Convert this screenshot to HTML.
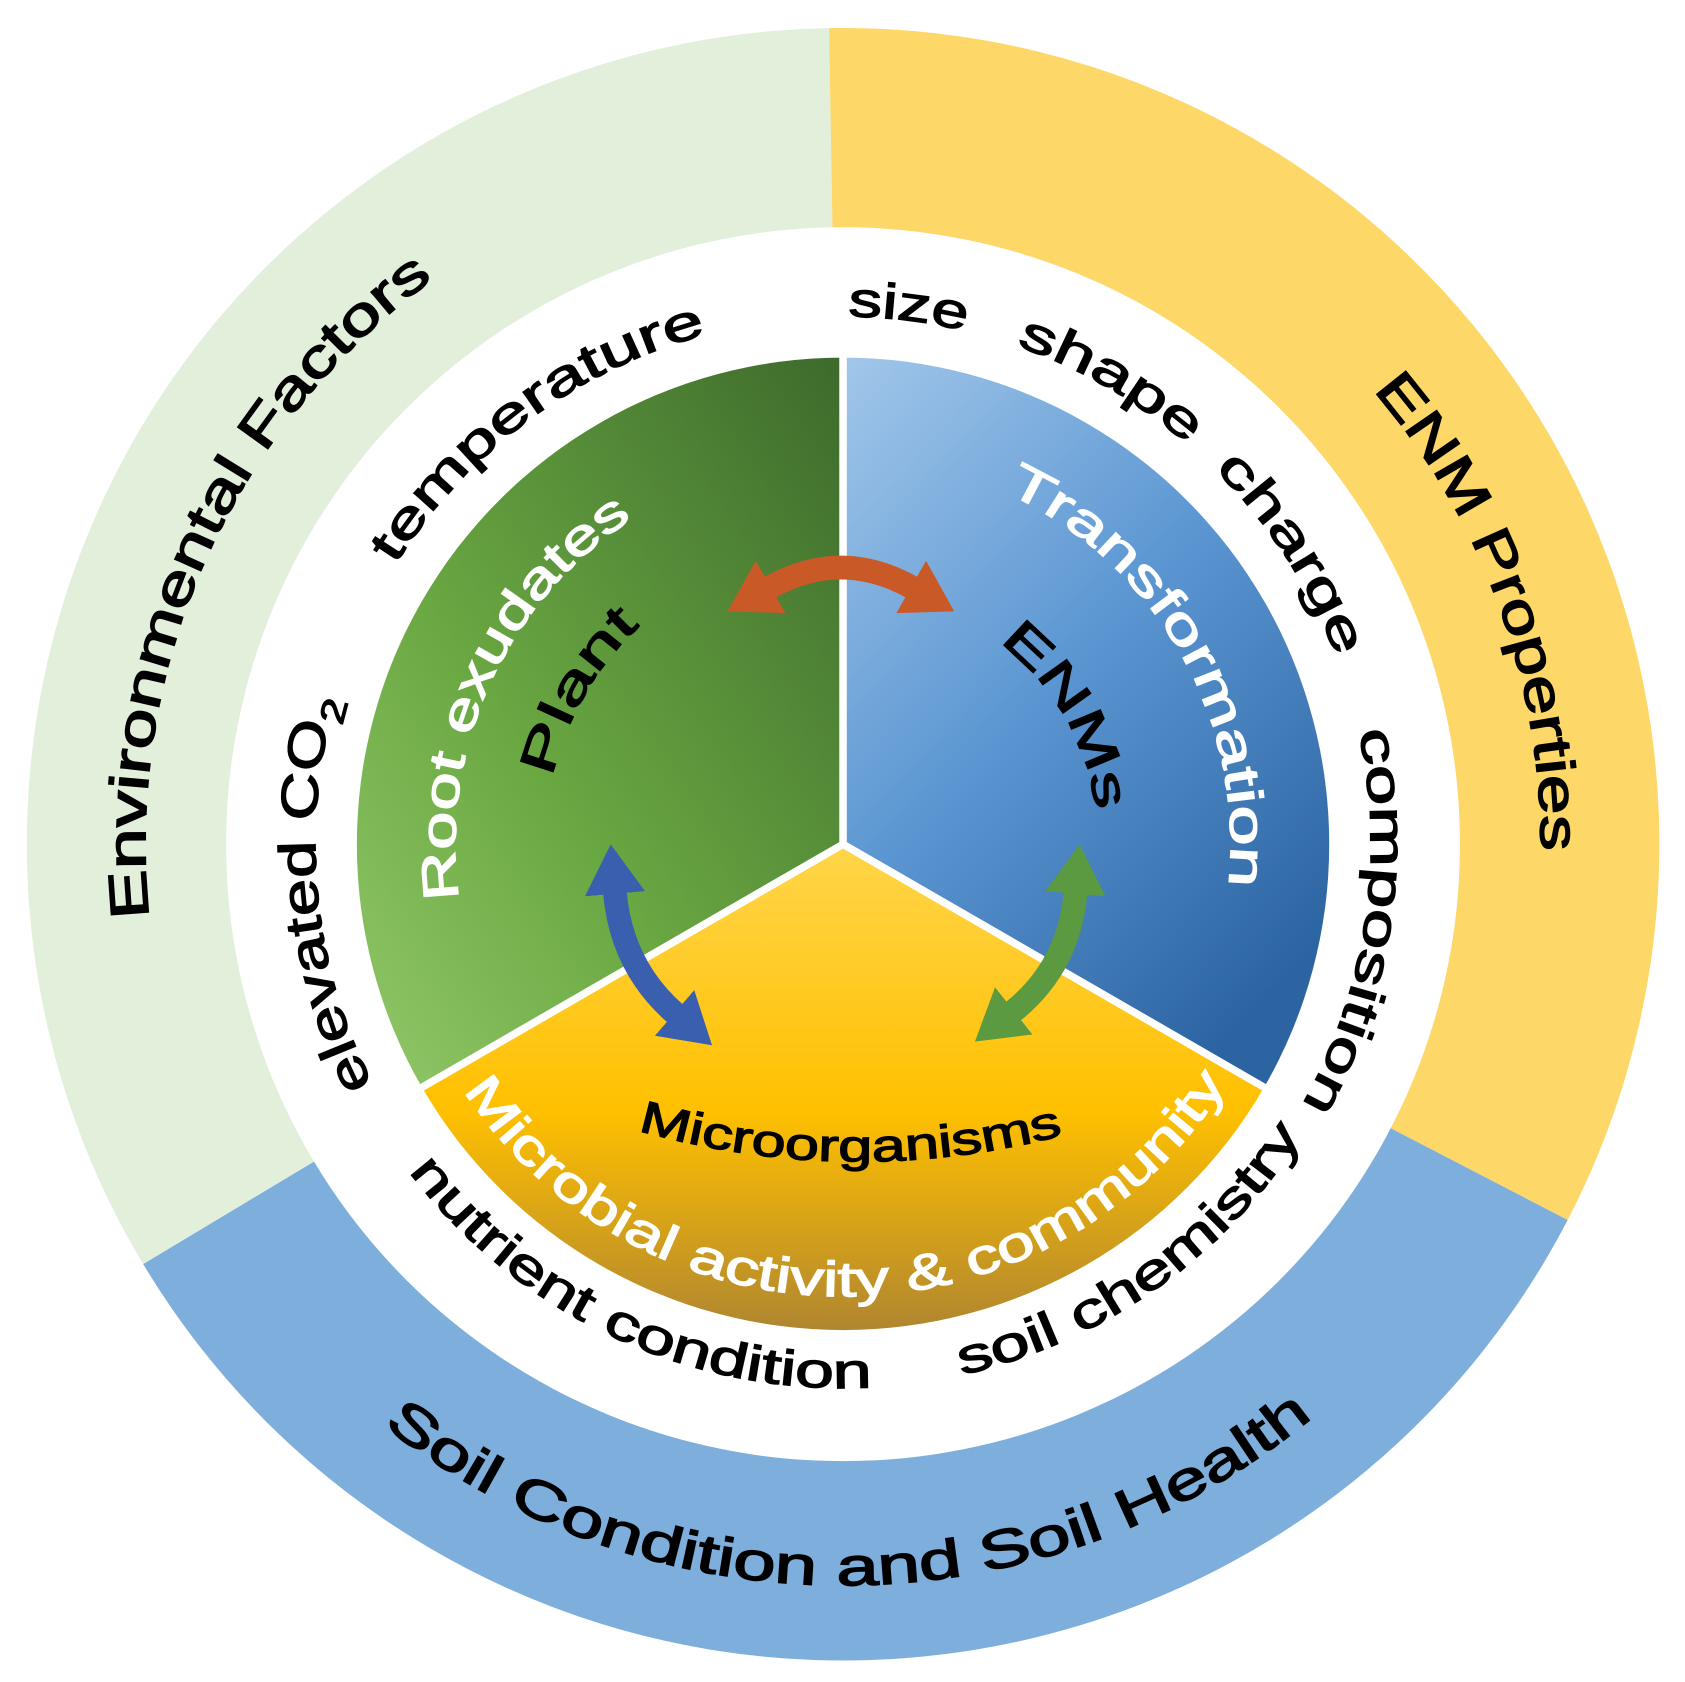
<!DOCTYPE html>
<html><head><meta charset="utf-8"><style>
html,body{margin:0;padding:0;background:#fff}
svg{display:block}
text{font-family:"Liberation Sans",sans-serif;}
</style></head><body>
<svg width="1685" height="1682" viewBox="0 0 1565 1562" xmlns="http://www.w3.org/2000/svg">
<defs>
<linearGradient id="gG" x1="1" y1="0" x2="0" y2="1">
<stop offset="0" stop-color="#3d6a2c"/><stop offset="0.6" stop-color="#6aa842"/><stop offset="1" stop-color="#92c86a"/></linearGradient>
<linearGradient id="gB" x1="0" y1="0" x2="0.7" y2="1">
<stop offset="0" stop-color="#a2c7ea"/><stop offset="0.5" stop-color="#5b96d2"/><stop offset="1" stop-color="#2c64a2"/></linearGradient>
<linearGradient id="gY" x1="0" y1="0" x2="0" y2="1">
<stop offset="0" stop-color="#ffd54a"/><stop offset="0.55" stop-color="#ffc000"/><stop offset="1" stop-color="#b08630"/></linearGradient>
<marker id="mO" markerUnits="userSpaceOnUse" markerWidth="50" markerHeight="56" refX="2" refY="28" orient="auto-start-reverse"><path d="M0 0 L46 28 L0 56 Z" fill="#c95a27"/></marker>
<marker id="mBl" markerUnits="userSpaceOnUse" markerWidth="50" markerHeight="56" refX="2" refY="28" orient="auto-start-reverse"><path d="M0 0 L46 28 L0 56 Z" fill="#3a5fae"/></marker>
<marker id="mGr" markerUnits="userSpaceOnUse" markerWidth="50" markerHeight="56" refX="2" refY="28" orient="auto-start-reverse"><path d="M0 0 L46 28 L0 56 Z" fill="#5b9a40"/></marker>
<path id="cw648" d="M1431 784 A648 648 0 1 1 135 784 A648 648 0 1 1 1431 784"/>
<path id="ccw688" d="M1471 784 A688 688 0 1 0 95 784 A688 688 0 1 0 1471 784"/>
<path id="cw360" d="M1143 784 A360 360 0 1 1 423 784 A360 360 0 1 1 1143 784"/>
<path id="cw360b" d="M423 784 A360 360 0 1 1 1143 784 A360 360 0 1 1 423 784"/>
<path id="cw277" d="M1060 784 A277 277 0 1 1 506 784 A277 277 0 1 1 1060 784"/>
<path id="cw237" d="M1020 784 A237 237 0 1 1 546 784 A237 237 0 1 1 1020 784"/>
<path id="micro" d="M560 1040 Q790 1115 1020 1045"/>
<path id="ccw420" d="M1203 784 A420 420 0 1 0 363 784 A420 420 0 1 0 1203 784"/>
<path id="cw490" d="M1273 784 A490 490 0 1 1 293 784 A490 490 0 1 1 1273 784"/>
<path id="cw490b" d="M293 784 A490 490 0 1 1 1273 784 A490 490 0 1 1 293 784"/>
<path id="ccw505" d="M1288 784 A505 505 0 1 0 278 784 A505 505 0 1 0 1288 784"/>
</defs>
<path d="M783 784 L133 1174 A758 758 0 0 1 770 26 Z" fill="#e2efda"/>
<path d="M783 784 L770 26 A758 758 0 0 1 1456 1133 Z" fill="#fdd768"/>
<path d="M783 784 L1456 1133 A758 758 0 0 1 133 1174 Z" fill="#7eaedc"/>
<circle cx="783" cy="784" r="573" fill="#fff"/>
<path d="M783 784 L392 1010 A452 452 0 0 1 783 332 Z" fill="url(#gG)"/>
<path d="M783 784 L783 332 A452 452 0 0 1 1174 1010 Z" fill="url(#gB)"/>
<path d="M783 784 L1174 1010 A452 452 0 0 1 392 1010 Z" fill="url(#gY)"/>
<g stroke="#fff" stroke-width="7"><line x1="783" y1="784" x2="783" y2="328"/><line x1="783" y1="784" x2="388" y2="1012"/><line x1="783" y1="784" x2="1178" y2="1012"/></g>
<path d="M714 546 Q781 508 848 546" fill="none" stroke="#c95a27" stroke-width="22" marker-start="url(#mO)" marker-end="url(#mO)"/>
<path d="M571 828 Q577 898 628 942" fill="none" stroke="#3a5fae" stroke-width="22" marker-start="url(#mBl)" marker-end="url(#mBl)"/>
<path d="M999 828 Q993 898 940 940" fill="none" stroke="#5b9a40" stroke-width="22" marker-start="url(#mGr)" marker-end="url(#mGr)"/>
<g fill="#000" stroke="#000" stroke-width="1.4" font-size="50">
<text text-anchor="middle"><textPath href="#cw648" startOffset="56.67%" textLength="680" lengthAdjust="spacingAndGlyphs">Environmental Factors</textPath></text>
<text text-anchor="middle"><textPath href="#cw648" startOffset="94.44%" textLength="465" lengthAdjust="spacingAndGlyphs">ENM Properties</textPath></text>
<text text-anchor="middle"><textPath href="#ccw688" startOffset="75.14%" textLength="933" lengthAdjust="spacingAndGlyphs">Soil Condition and Soil Health</textPath></text>
</g>
<g fill="#000" stroke="#000" stroke-width="1.2" font-size="46">
<text text-anchor="middle"><textPath href="#cw490" startOffset="64.86%" textLength="368" lengthAdjust="spacingAndGlyphs">temperature</textPath></text>
<text text-anchor="middle"><textPath href="#cw490" startOffset="76.94%" textLength="110" lengthAdjust="spacingAndGlyphs">size</textPath></text>
<text text-anchor="middle"><textPath href="#cw490" startOffset="83.33%" textLength="185" lengthAdjust="spacingAndGlyphs">shape</textPath></text>
<text text-anchor="middle"><textPath href="#cw490" startOffset="90.83%" textLength="210" lengthAdjust="spacingAndGlyphs">charge</textPath></text>
<text text-anchor="middle"><textPath href="#cw490b" startOffset="52.39%" textLength="359" lengthAdjust="spacingAndGlyphs">composition</textPath></text>
<text text-anchor="middle" font-size="48"><textPath href="#cw490" startOffset="48.47%" textLength="368" lengthAdjust="spacingAndGlyphs">elevated CO<tspan font-size="32" dy="12">2</tspan></textPath></text>
<text text-anchor="middle"><textPath href="#ccw505" startOffset="68.06%" textLength="494" lengthAdjust="spacingAndGlyphs">nutrient condition</textPath></text>
<text text-anchor="middle"><textPath href="#ccw505" startOffset="84.75%" textLength="397" lengthAdjust="spacingAndGlyphs">soil chemistry</textPath></text>
<text text-anchor="middle"><textPath href="#cw277" startOffset="58.33%" textLength="165" lengthAdjust="spacingAndGlyphs">Plant</textPath></text>
<text text-anchor="middle"><textPath href="#cw237" startOffset="91.67%" textLength="185" lengthAdjust="spacingAndGlyphs">ENMs</textPath></text>
<text text-anchor="middle" font-size="42"><textPath href="#micro" startOffset="50%" textLength="400" lengthAdjust="spacingAndGlyphs">Microorganisms</textPath></text>
</g>
<g fill="#fff" stroke="#fff" stroke-width="1.2" font-size="46">
<text text-anchor="middle"><textPath href="#cw360" startOffset="56.8%" textLength="410" lengthAdjust="spacingAndGlyphs">Root exudates</textPath></text>
<text text-anchor="middle"><textPath href="#cw360b" startOffset="41.8%" textLength="449" lengthAdjust="spacingAndGlyphs">Transformation</textPath></text>
<text text-anchor="middle"><textPath href="#ccw420" startOffset="75.14%" textLength="843" lengthAdjust="spacingAndGlyphs">Microbial activity &amp; community</textPath></text>
</g>
</svg>
</body></html>
